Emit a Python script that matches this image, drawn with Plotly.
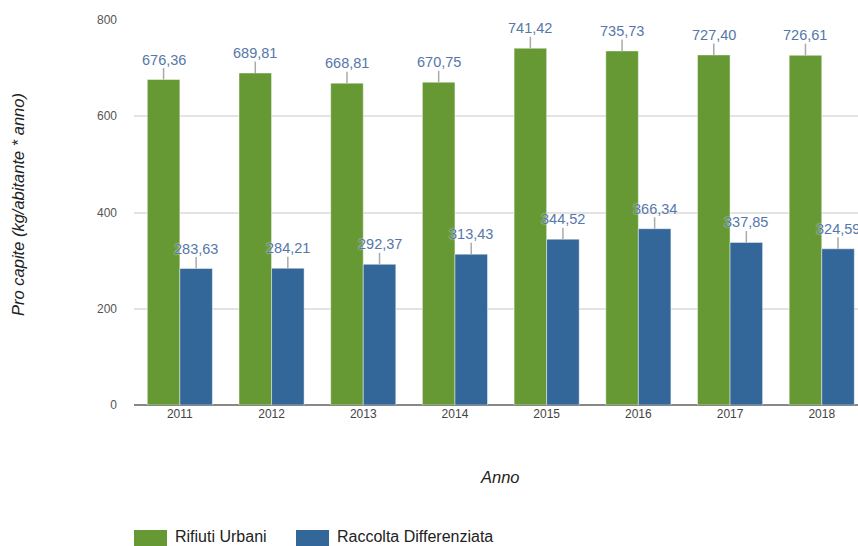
import plotly.graph_objects as go

# Dati pro capite (kg/abitante * anno)
anni = ["2011", "2012", "2013", "2014", "2015", "2016", "2017", "2018"]
rifiuti_urbani = [676.36, 689.81, 668.81, 670.75, 741.42, 735.73, 727.40, 726.61]
raccolta_differenziata = [283.63, 284.21, 292.37, 313.43, 344.52, 366.34, 337.85, 324.59]
serie_nomi = ["Rifiuti Urbani", "Raccolta Differenziata"]
y_ticks = [0, 200, 400, 600, 800]

VERDE = "#669933"
BLU = "#336699"
ETICHETTA = "#5577aa"
FONT = "Liberation Sans, Arial, sans-serif"

bar_w = 0.355
idx = list(range(len(anni)))
x_verde = [i - bar_w / 2 for i in idx]
x_blu = [i + bar_w / 2 for i in idx]

fig = go.Figure()
for xs, vals, col, nome in [(x_verde, rifiuti_urbani, VERDE, serie_nomi[0]),
                            (x_blu, raccolta_differenziata, BLU, serie_nomi[1])]:
    fig.add_trace(go.Bar(
        x=xs, y=vals, width=bar_w, name=nome,
        marker=dict(color=col, line=dict(color="rgba(255,255,255,0.45)", width=1)),
        showlegend=False, hoverinfo="skip",
    ))

def fmt(v):
    return f"{v:.2f}".replace(".", ",")

annotations = []
for xs, vals in [(x_verde, rifiuti_urbani), (x_blu, raccolta_differenziata)]:
    for x, v in zip(xs, vals):
        annotations.append(dict(
            x=x, y=v, xref="x", yref="y", text=fmt(v),
            showarrow=True, arrowhead=0, arrowwidth=1.5, arrowcolor="#aaaaaa",
            ax=0, ay=-20, standoff=0, borderpad=0,
            font=dict(family=FONT, size=14.5, color=ETICHETTA,
                      shadow="0px 0px 2px white"),
        ))

# Titoli assi
annotations.append(dict(
    x=-0.160, y=0.52, xref="paper", yref="paper", text="Pro capite (kg/abitante * anno)",
    textangle=-90, showarrow=False, xanchor="center", yanchor="middle",
    font=dict(family=FONT, size=16.5, color="#222222", style="italic"),
))
annotations.append(dict(
    x=0.5055, y=-0.187, xref="paper", yref="paper", text="Anno",
    showarrow=False, xanchor="center", yanchor="middle",
    font=dict(family=FONT, size=16.5, color="#222222", style="italic"),
))

# Legenda disegnata a mano
shapes = []
legenda = [(134, 167, 173, VERDE, serie_nomi[0]), (296, 329, 335, BLU, serie_nomi[1])]
L, T, H, W = 134, 20, 385, 724
def px_to_paper_x(px):
    return (px - L) / W
def px_to_paper_y(py):
    return (T + H - py) / H
for x0, x1, xt, col, nome in legenda:
    shapes.append(dict(type="rect", xref="paper", yref="paper",
                       x0=px_to_paper_x(x0), x1=px_to_paper_x(x1),
                       y0=px_to_paper_y(548), y1=px_to_paper_y(530),
                       fillcolor=col, line=dict(width=0)))
    annotations.append(dict(
        x=px_to_paper_x(xt), y=px_to_paper_y(536.5), xref="paper", yref="paper",
        text=nome, showarrow=False, xanchor="left", yanchor="middle",
        font=dict(family=FONT, size=16, color="#222222"),
    ))

fig.update_layout(
    width=858, height=546,
    margin=dict(l=L, r=0, t=T, b=546 - T - H, pad=0),
    paper_bgcolor="white", plot_bgcolor="white",
    font=dict(family=FONT),
    annotations=annotations, shapes=shapes,
    showlegend=False,
)
fig.update_xaxes(
    range=[-0.5, -0.5 + W / 91.7], tickvals=idx, ticktext=anni,
    showgrid=False, zeroline=False, showline=False,
    tickfont=dict(family=FONT, size=12, color="#444444"),
    ticks="", fixedrange=True,
)
fig.update_yaxes(
    range=[0, 800], tickvals=y_ticks, ticktext=[str(t) for t in y_ticks],
    showgrid=True, gridcolor="#e3e3e3", gridwidth=1.5,
    zeroline=True, zerolinecolor="#888888", zerolinewidth=2,
    showline=False, ticks="", ticklabelstandoff=16,
    tickfont=dict(family=FONT, size=12, color="#555555"),
    fixedrange=True,
)

fig.write_html("out.html")
